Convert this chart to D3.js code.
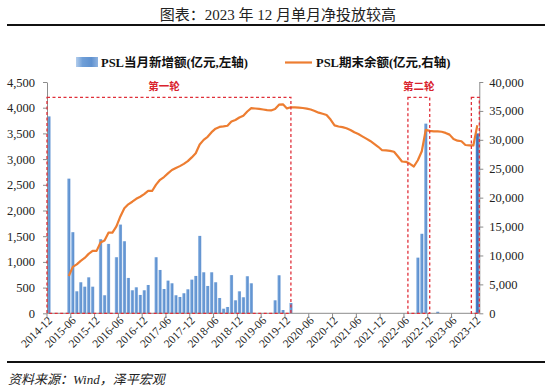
<!DOCTYPE html>
<html><head><meta charset="utf-8">
<script src="https://cdn.jsdelivr.net/npm/d3@7/dist/d3.min.js"></script>
<style>
body{margin:0;background:#fff;}
svg{display:block;}
</style></head><body>
<svg id="chart" width="550" height="391"></svg>
<script>
// ---------- data ----------
const titleText = "图表：2023 年 12 月单月净投放较高";
const sourceText = "资料来源：Wind，泽平宏观";
const seriesNames = ["PSL当月新增额(亿元,左轴)", "PSL期末余额(亿元,右轴)"];
const firstMonth = "2014-12";
const monthCount = 109;
const tickLabels = ["2014-12","2015-06","2015-12","2016-06","2016-12","2017-06","2017-12","2018-06","2018-12","2019-06","2019-12","2020-06","2020-12","2021-06","2021-12","2022-06","2022-12","2023-06","2023-12"];
const leftTicks = [0,500,1000,1500,2000,2500,3000,3500,4000,4500];
const rightTicks = [0,5000,10000,15000,20000,25000,30000,35000,40000];

// PSL monthly net new (100m yuan), 2014-12 .. 2023-12
const newPSL = [
  3831, 0, 0, 0, 0, 2620, 1578, 428, 604, 518, 700, 518,      // 2014-12 .. 2015-11
  0, 1441, 351, 1350, 0, 1091, 1726, 1402, 688, 448, 506, 357, // 2015-12 .. 2016-11
  448, 551, 0, 1091, 843, 473, 636, 584, 351, 318, 390, 467,   // 2016-12 .. 2017-11
  655, 727, 1506, 798, 532, 798, 604, 298, 90, 123, 743, 253,  // 2017-12 .. 2018-11
  428, 312, 721, 584, 0, 0, 0, 0, 0, 253, 740, 64,             // 2018-12 .. 2019-11
  0, 201, 0, 0, 0, 0, 0, 0, 0, 0, 0, 0,                        // 2019-12 .. 2020-11
  0, 0, 0, 0, 0, 0, 0, 0, 0, 0, 0, 0,                          // 2020-12 .. 2021-11
  0, 0, 0, 0, 0, 0, 0, 0, 0, 1083, 1547, 3690,                 // 2021-12 .. 2022-11
  0, 0, 30, 0, 0, 0, 0, 0, 0, 0, 0, 0,                         // 2022-12 .. 2023-11
  3500                                                         // 2023-12
];
// PSL outstanding balance (100m yuan), 2014-12 .. 2023-12 (null = not shown)
const balancePSL = [
  null, null, null, null, null, 6451, 8029, 8457, 9061, 9579, 10279, 10797,
  10797, 12238, 12589, 13939, 13939, 15030, 16756, 18158, 18846, 19294, 19800, 20157,
  20605, 21156, 21156, 22247, 23090, 23563, 24199, 24783, 25134, 25452, 25842, 26309,
  26964, 27691, 29197, 29995, 30527, 31325, 31929, 32227, 32317, 32440, 33183, 33436,
  33864, 34176, 34897, 35481, 35420, 35350, 35250, 35150, 35080, 35333, 36073, 36137,
  35430, 35631, 35600, 35560, 35500, 35400, 35250, 35000, 34700, 34500, 34300, 33500,
  32500, 32300, 32200, 32000, 31700, 31300, 31000, 30600, 30200, 29800, 29300, 28800,
  28200, 28160, 28100, 27930, 27120, 26250, 26200, 25850, 25390, 26473, 28020, 31710,
  31550, 31450, 31450, 31400, 31200, 30900, 30150, 29850, 29750, 29100, 29030, 29030,
  32530
];
const roundLabels = ["第一轮", "第二轮", ""];
const roundStart = ["2014-12", "2022-07", "2023-11"];
const roundEnd = ["2020-01", "2022-12", null];
const roundTop = 4200;

// ---------- build ----------
const parse = d3.timeParse("%Y-%m"), fmtM = d3.timeFormat("%Y-%m");
const m0 = parse(firstMonth);
const months = d3.range(monthCount).map(i => fmtM(d3.timeMonth.offset(m0, i)));
const rows = months.map((m, i) => ({m, v: newPSL[i], b: balancePSL[i], i}));

const svg = d3.select("#chart");
const L = 47, R = 479.3, T = 82, B = 313.3;
const serif = "'Liberation Serif','Times New Roman','Noto Sans CJK SC',serif";
const cjk = "'Liberation Serif','Noto Sans CJK SC',sans-serif";

const x = d3.scaleBand().domain(months).range([L, R]).paddingInner(0.16).paddingOuter(0.08);
const yL = d3.scaleLinear().domain([0, 4500]).range([B, T]);
const yR = d3.scaleLinear().domain([0, 40000]).range([B, T]);
const edge = m => x(m) - x.step() * x.paddingInner() / 2;
const mid = m => x(m) + x.bandwidth() / 2;

// defs
const defs = svg.append("defs");
const g1 = defs.append("linearGradient").attr("id", "barGrad").attr("x1", 0).attr("x2", 1).attr("y1", 0).attr("y2", 0);
[[0, "#b3cdec"], [0.3, "#6f9fd8"], [0.7, "#5f91cf"], [1, "#8fb3e0"]].forEach(s => g1.append("stop").attr("offset", s[0]).attr("stop-color", s[1]));
const g2 = defs.append("linearGradient").attr("id", "barGrad2").attr("x1", 0).attr("x2", 1).attr("y1", 0).attr("y2", 0);
[[0, "#7fa8dc"], [0.3, "#3f78c2"], [0.7, "#3a72bd"], [1, "#6a98d3"]].forEach(s => g2.append("stop").attr("offset", s[0]).attr("stop-color", s[1]));

// title
svg.append("text").attr("x", 278).attr("y", 20).attr("text-anchor", "middle")
  .attr("font-family", cjk).attr("font-size", 15).attr("fill", "#222").text(titleText);
svg.append("line").attr("x1", 7).attr("x2", 545).attr("y1", 25).attr("y2", 25).attr("stroke", "#111").attr("stroke-width", 2);

// legend
const lg = svg.append("g").attr("font-family", cjk).attr("font-size", 12.5).attr("font-weight", "bold").attr("fill", "#111");
lg.append("rect").attr("x", 76).attr("y", 57).attr("width", 22).attr("height", 10).attr("fill", "url(#barGrad)");
lg.append("text").attr("x", 101).attr("y", 67).text(seriesNames[0]);
lg.append("line").attr("x1", 285).attr("x2", 312).attr("y1", 62.5).attr("y2", 62.5).attr("stroke", "#ED7D31").attr("stroke-width", 2.2);
lg.append("text").attr("x", 316).attr("y", 67).text(seriesNames[1]);

// bars
svg.append("g").selectAll("rect").data(rows.filter(d => d.v > 0)).join("rect")
  .attr("x", d => x(d.m)).attr("width", x.bandwidth())
  .attr("y", d => yL(d.v)).attr("height", d => yL(0) - yL(d.v))
  .attr("fill", d => d.i === monthCount - 1 ? "url(#barGrad2)" : "url(#barGrad)");

// axes
const axisStyle = g => {
  g.select(".domain").attr("stroke", "#8c8c8c");
  g.selectAll(".tick line").attr("stroke", "#8c8c8c");
  g.selectAll(".tick text").attr("fill", "#222").attr("font-family", serif).attr("font-size", 12.5);
};
svg.append("g").attr("transform", `translate(${L},0)`)
  .call(d3.axisLeft(yL).tickValues(leftTicks).tickFormat(d3.format(",")).tickSize(4).tickSizeOuter(0).tickPadding(8))
  .call(axisStyle);
svg.append("g").attr("transform", `translate(${R},0)`)
  .call(d3.axisRight(yR).tickValues(rightTicks).tickFormat(d3.format(",")).tickSize(4).tickSizeOuter(0).tickPadding(6))
  .call(axisStyle);

// x axis
const xg = svg.append("g");
xg.append("line").attr("x1", L).attr("x2", R).attr("y1", B).attr("y2", B).attr("stroke", "#8c8c8c");
xg.selectAll("line.t").data(tickLabels).join("line").attr("class", "t")
  .attr("x1", d => edge(d)).attr("x2", d => edge(d)).attr("y1", B).attr("y2", B + 4).attr("stroke", "#8c8c8c");
xg.selectAll("text").data(tickLabels).join("text")
  .attr("transform", d => `translate(${mid(d) + 1},${B + 5}) rotate(-45)`)
  .attr("text-anchor", "end").attr("dy", "0.35em")
  .attr("font-family", serif).attr("font-size", 11.5).attr("fill", "#222").text(d => d);

// line
const line = d3.line().defined(d => d.b != null).x(d => mid(d.m)).y(d => yR(d.b));
svg.append("path").datum(rows).attr("d", line).attr("fill", "none")
  .attr("stroke", "#ED7D31").attr("stroke-width", 2.2).attr("stroke-linejoin", "round");

// round boxes
const rg = svg.append("g");
roundStart.forEach((s, k) => {
  const x1 = edge(s), x2 = roundEnd[k] ? mid(roundEnd[k]) : R;
  rg.append("rect").attr("x", x1).attr("y", yL(roundTop)).attr("width", x2 - x1).attr("height", yL(0) - yL(roundTop))
    .attr("fill", "none").attr("stroke", "#e0303a").attr("stroke-width", 1.3).attr("stroke-dasharray", "3,2.5");
  if (roundLabels[k]) rg.append("text").attr("x", (x1 + x2) / 2 - (k === 0 ? 5 : 0)).attr("y", yL(roundTop) - 7)
    .attr("text-anchor", "middle").attr("font-family", cjk).attr("font-size", 10.5).attr("font-weight", "bold")
    .attr("fill", "#d9232e").text(roundLabels[k]);
});

// footer
svg.append("line").attr("x1", 7).attr("x2", 545).attr("y1", 362).attr("y2", 362).attr("stroke", "#111").attr("stroke-width", 2);
svg.append("text").attr("x", 8).attr("y", 384).attr("font-family", cjk).attr("font-size", 13)
  .attr("font-style", "italic").attr("fill", "#222").text(sourceText);
</script>
</body></html>
